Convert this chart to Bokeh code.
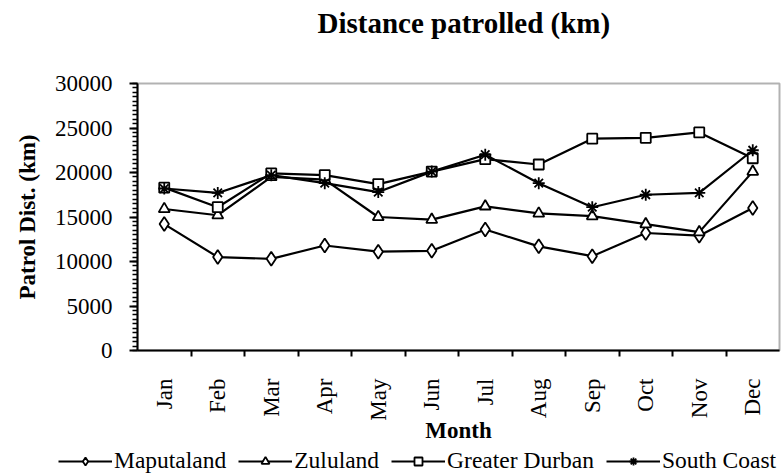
import numpy as np
from bokeh.plotting import figure
from bokeh.models import Range1d, FixedTicker, Legend, LegendItem, BoxAnnotation
from bokeh.embed import file_html
from bokeh.resources import INLINE

months = ["Jan", "Feb", "Mar", "Apr", "May", "Jun", "Jul", "Aug", "Sep", "Oct", "Nov", "Dec"]
maputaland = [14200, 10500, 10300, 11800, 11100, 11200, 13600, 11700, 10600, 13200, 12900, 16000]
zululand = [15900, 15200, 19500, 19200, 15000, 14700, 16200, 15400, 15100, 14200, 13300, 20100]
greater_durban = [18300, 16100, 19900, 19700, 18700, 20100, 21500, 20900, 23800, 23900, 24500, 21600]
south_coast = [18200, 17700, 19700, 18800, 17800, 20100, 22000, 18800, 16100, 17500, 17700, 22500]
y_ticks = [0, 5000, 10000, 15000, 20000, 25000, 30000]
Y_MAX = 30000

FONT = "Liberation Serif"

# page / plot-area geometry in pixels
W, H = 784, 474
FRAME_T = 40                      # top of drawing frame (below the title)
AREA_L, AREA_R, AREA_T, AREA_B = 137, 779, 83, 350

n = len(months)
xs = [i + 0.5 for i in range(n)]

# the frame covers the canvas below the title; the axes sit at fixed data
# locations so that tick labels, axis titles and legend are never clipped
x_per_px = n / (AREA_R - AREA_L)
y_per_px = Y_MAX / (AREA_B - AREA_T)
x_range = Range1d(-AREA_L * x_per_px, n + (W - AREA_R) * x_per_px)
y_range = Range1d(-(H - AREA_B) * y_per_px, Y_MAX + (AREA_T - FRAME_T) * y_per_px)

p = figure(width=W, height=H, output_backend="svg", toolbar_location=None,
           x_range=x_range, y_range=y_range,
           min_border_left=0, min_border_right=0, min_border_top=FRAME_T, min_border_bottom=0)
p.background_fill_color = "white"
p.border_fill_color = "white"
p.outline_line_color = None
p.xgrid.visible = False
p.ygrid.visible = False

p.title.text = "Distance patrolled (km)"
p.title.align = "left"
p.title.offset = 317
p.title.text_font = FONT
p.title.text_font_style = "bold"
p.title.text_font_size = "29px"
p.title.text_color = "black"
p.title.standoff = 4

# plot-area border
p.add_layout(BoxAnnotation(left=0, right=n, bottom=0, top=Y_MAX, fill_alpha=0,
                           line_color="black", line_width=2, level="underlay"))

# x axis: labels at category centres, tick marks at category boundaries
p.xaxis.fixed_location = 0
p.xaxis.bounds = (0, n)
p.xaxis.ticker = FixedTicker(ticks=xs, minor_ticks=list(range(1, n)))
p.xaxis.major_label_overrides = {x: m for x, m in zip(xs, months)}
p.xaxis.major_tick_out = 0
p.xaxis.major_tick_in = 0
p.xaxis.minor_tick_out = 6
p.xaxis.minor_tick_in = 0
p.xaxis.minor_tick_line_color = "black"
p.xaxis.minor_tick_line_width = 2
p.xaxis.major_label_orientation = np.pi / 2
p.xaxis.major_label_standoff = 22
p.xaxis.axis_label = "Month"
p.xaxis.axis_label_standoff = -6

# y axis
p.yaxis.fixed_location = 0
p.yaxis.bounds = (0, Y_MAX)
p.yaxis.ticker = FixedTicker(ticks=y_ticks, minor_ticks=list(range(0, Y_MAX + 1, 500)))
p.yaxis.major_tick_out = 8
p.yaxis.major_tick_in = 0
p.yaxis.minor_tick_out = 5
p.yaxis.minor_tick_in = 0
p.yaxis.major_tick_line_width = 2
p.yaxis.minor_tick_line_width = 1.5
p.yaxis.minor_tick_line_color = "black"
p.yaxis.major_label_standoff = 17
p.yaxis.axis_label = "Patrol Dist. (km)"
p.yaxis.axis_label_standoff = 12

for ax in (p.xaxis, p.yaxis):
    ax.axis_line_width = 2
    ax.axis_line_color = "black"
    ax.major_tick_line_color = "black"
    ax.major_label_text_font = FONT
    ax.major_label_text_font_size = "23px"
    ax.major_label_text_color = "black"
    ax.axis_label_text_font = FONT
    ax.axis_label_text_font_size = "23px"
    ax.axis_label_text_font_style = "bold"
    ax.axis_label_text_color = "black"

series = [
    ("Maputaland", maputaland, "diamond", 14),
    ("Zululand", zululand, "triangle", 11),
    ("Greater Durban", greater_durban, "square", 10),
    ("South Coast", south_coast, "asterisk", 12),
]

items = []
for name, vals, marker, size in series:
    lr = p.line(xs, vals, line_color="black", line_width=2.2)
    sr = p.scatter(xs, vals, marker=marker, size=size,
                   line_color="black", line_width=1.8, fill_color="white")
    items.append(LegendItem(label=name, renderers=[lr, sr]))

legend = Legend(items=items, orientation="horizontal", location=(58, 0),
                glyph_width=54, glyph_height=20, label_standoff=2, spacing=12,
                label_height=24, padding=0, margin=0, border_line_color=None,
                background_fill_alpha=0,
                label_text_font=FONT, label_text_font_size="23.5px", label_text_color="black")
p.add_layout(legend)

open("out.html", "w").write(file_html(p, INLINE))
